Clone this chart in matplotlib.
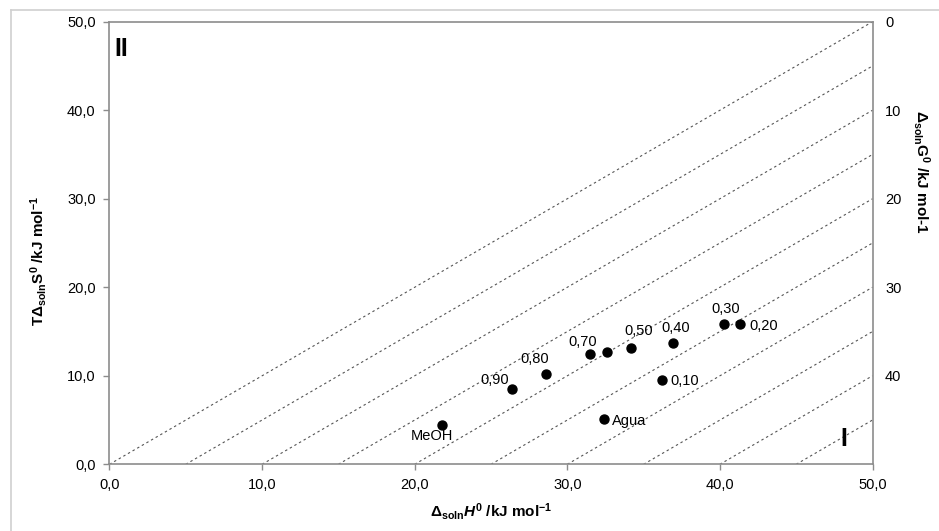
import numpy as np
import matplotlib
matplotlib.use('Agg')
import matplotlib.pyplot as plt
from matplotlib.lines import Line2D

plt.rcParams['font.family'] = ['Liberation Sans', 'DejaVu Sans']
plt.rcParams['mathtext.fontset'] = 'custom'
plt.rcParams['mathtext.rm'] = 'Liberation Sans:bold'
plt.rcParams['mathtext.it'] = 'Liberation Sans:italic:bold'
plt.rcParams['mathtext.bf'] = 'Liberation Sans:bold'

# Datos (kJ/mol)
etiquetas = ['MeOH', 'Agua', '0,90', '0,80', '0,70', '', '0,50', '0,40', '0,10', '0,30', '0,20']
dH = [21.8, 32.4, 26.4, 28.6, 31.5, 32.6, 34.2, 36.9, 36.2, 40.25, 41.3]
TdS = [4.4, 5.1, 8.5, 10.2, 12.5, 12.7, 13.1, 13.7, 9.5, 15.9, 15.9]
# desplazamiento de cada etiqueta (px)
desp = [(-10, -11), (25, -2), (-18, 9), (-11, 15), (-8, 12), (0, 0), (7, 17), (3, 15), (23, -1), (2, 15), (24, -2)]

# isolineas de energia libre
dG_iso = [0, 5, 10, 15, 20, 25, 30, 35, 40, 45]
dG_ticks = [0, 10, 20, 30, 40]
ticks = [0, 10, 20, 30, 40, 50]

fig = plt.figure(figsize=(9.39, 5.31), dpi=100)
ax = fig.add_axes([0.1166, 0.1256, 0.8126, 0.8335])

gris = '#8c8c8c'
for g in dG_iso:
    x = np.array([g, 50])
    ax.plot(x, x - g, color='#555555', lw=0.8, dashes=(2.2, 2.6), zorder=1)

ax.scatter(dH, TdS, s=42, color='black', zorder=3)
for xi, yi, t, (ox, oy) in zip(dH, TdS, etiquetas, desp):
    if t:
        ax.annotate(t, (xi, yi), xytext=(ox * 0.72, oy * 0.72), textcoords='offset points',
                    ha='center', va='center', fontsize=10.5)

ax.set_xlim(0, 50)
ax.set_ylim(0, 50)
ax.set_xticks(ticks)
ax.set_yticks(ticks)
ax.set_xticklabels([f'{t:.1f}'.replace('.', ',') for t in ticks])
ax.set_yticklabels([f'{t:.1f}'.replace('.', ',') for t in ticks])
ax.tick_params(direction='out', length=4, width=1, color=gris, labelsize=10.5, pad=6)
for s in ax.spines.values():
    s.set_color(gris)
    s.set_linewidth(1.2)

ax.set_xlabel(r'Δ$_{\mathrm{soln}}$$\mathit{H}^{\mathit{0}}$ /kJ mol$^{\mathrm{-1}}$',
              fontsize=11, fontweight='bold', labelpad=6)
ax.set_ylabel(r'TΔ$_{\mathrm{soln}}$S$^{\mathit{0}}$ /kJ mol$^{\mathrm{-1}}$',
              fontsize=11, fontweight='bold', va='center')
ax.yaxis.set_label_coords(-0.093, 0.46)

ax2 = ax.twinx()
ax2.set_ylim(50, 0)
ax2.set_yticks(dG_ticks)
ax2.set_yticklabels([str(t) for t in dG_ticks])
ax2.tick_params(length=0, labelsize=10.5, pad=9)
for s in ax2.spines.values():
    s.set_visible(False)
ax2.set_ylabel(r'Δ$_{\mathrm{soln}}$G$^{\mathrm{0}}$ /kJ mol-1', fontsize=11,
               fontweight='bold', rotation=270, va='center')
ax2.yaxis.set_label_coords(1.064, 0.66)

ax.text(0.007, 0.965, 'II', transform=ax.transAxes, fontsize=18, fontweight='bold',
        ha='left', va='top')
ax.text(0.958, 0.03, 'I', transform=ax.transAxes, fontsize=18, fontweight='bold',
        ha='left', va='bottom')

# marco de la figura
fig.add_artist(Line2D([11 / 939, 11 / 939], [0, 1 - 10 / 531], transform=fig.transFigure,
                      color='#d0d0d0', lw=1.2))
fig.add_artist(Line2D([11 / 939, 1], [1 - 10 / 531, 1 - 10 / 531], transform=fig.transFigure,
                      color='#d0d0d0', lw=1.2))

fig.savefig('out.png', dpi=100)
